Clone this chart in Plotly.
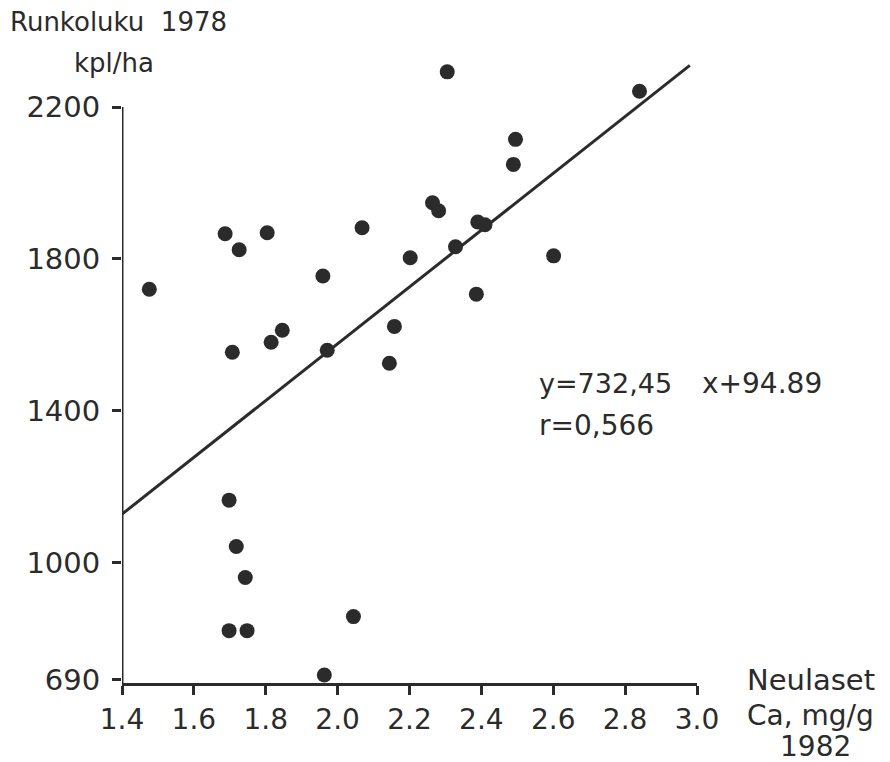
import plotly.graph_objects as go

# Data
ca_x = [1.687, 1.804, 1.726, 2.068, 2.202, 1.476, 1.959, 1.846, 1.815, 1.707,
        1.971, 2.158, 2.144, 1.698, 1.718, 1.743, 1.698, 1.748, 2.044, 1.963,
        2.305, 2.840, 2.495, 2.489, 2.264, 2.281, 2.390, 2.410, 2.328, 2.601,
        2.386]
stems_y = [1866, 1869, 1824, 1882, 1803, 1720, 1755, 1612, 1580, 1554,
           1559, 1622, 1525, 1164, 1042, 960, 820, 820, 857, 703,
           2293, 2242, 2115, 2049, 1948, 1927, 1897, 1890, 1832, 1808,
           1707]
fit_x = [1.4, 2.98]
fit_y = [1127, 2310]
x_ticks = [1.4, 1.6, 1.8, 2.0, 2.2, 2.4, 2.6, 2.8, 3.0]
x_labels = ["1.4", "1.6", "1.8", "2.0", "2.2", "2.4", "2.6", "2.8", "3.0"]
y_ticks = [690, 1000, 1400, 1800, 2200]
y_labels = ["690", "1000", "1400", "1800", "2200"]

INK = "#2b2b2b"
FONT = "DejaVu Sans"

fig = go.Figure()
fig.add_trace(go.Scatter(x=fit_x, y=fit_y, mode="lines",
                         line=dict(color=INK, width=3), cliponaxis=False,
                         showlegend=False))
fig.add_trace(go.Scatter(x=ca_x, y=stems_y, mode="markers",
                         marker=dict(color=INK, size=15), cliponaxis=False,
                         showlegend=False))

# y axis line (ends at 2200)
fig.add_shape(type="line", xref="x", yref="y", x0=1.4, x1=1.4,
              y0=682, y1=2200, line=dict(color=INK, width=3))

fig.update_layout(
    width=890, height=762,
    margin=dict(l=122, r=193, t=54, b=79),
    paper_bgcolor="white", plot_bgcolor="white",
    font=dict(family=FONT, color=INK, size=28),
    xaxis=dict(range=[1.4, 3.0], tickvals=x_ticks, ticktext=x_labels,
               showgrid=False, zeroline=False, showline=True,
               linecolor=INK, linewidth=3, ticks="outside", ticklen=9,
               tickwidth=3, tickcolor=INK,
               tickfont=dict(family=FONT, size=28, color=INK)),
    yaxis=dict(range=[682, 2340], tickvals=y_ticks, ticktext=y_labels,
               showgrid=False, zeroline=False, showline=False,
               ticks="outside", ticklen=9, tickwidth=3, tickcolor=INK,
               ticklabelstandoff=6,
               tickfont=dict(family=FONT, size=29, color=INK)),
)

def pyp(py):
    return (683 - py) / 629.0

def pxp(px):
    return (px - 122) / 575.0

ann = [
    dict(text="Runkoluku  1978", x=pxp(8), y=pyp(22), xanchor="left", size=26),
    dict(text="kpl/ha", x=pxp(72), y=pyp(63), xanchor="left", size=26),
    dict(text="Neulaset", x=pxp(745), y=pyp(680), xanchor="left", size=29),
    dict(text="Ca, mg/g", x=pxp(745), y=pyp(715), xanchor="left", size=28),
    dict(text="1982", x=pxp(815), y=pyp(746), xanchor="center", size=28),
    dict(text="y=732,45", x=pxp(537), y=pyp(383), xanchor="left", size=27),
    dict(text="x+94.89", x=pxp(700), y=pyp(383), xanchor="left", size=28),
    dict(text="r=0,566", x=pxp(537), y=pyp(425), xanchor="left", size=28),
]
for a in ann:
    fig.add_annotation(text=a["text"], x=a["x"], y=a["y"], xref="paper",
                       yref="paper", xanchor=a["xanchor"], yanchor="middle",
                       showarrow=False,
                       font=dict(family=FONT, size=a["size"], color=INK))

fig.write_html("out.html",
               config={"displayModeBar": False},
               post_script="document.body.style.margin='0px';"
                           "document.body.style.overflow='hidden';")
